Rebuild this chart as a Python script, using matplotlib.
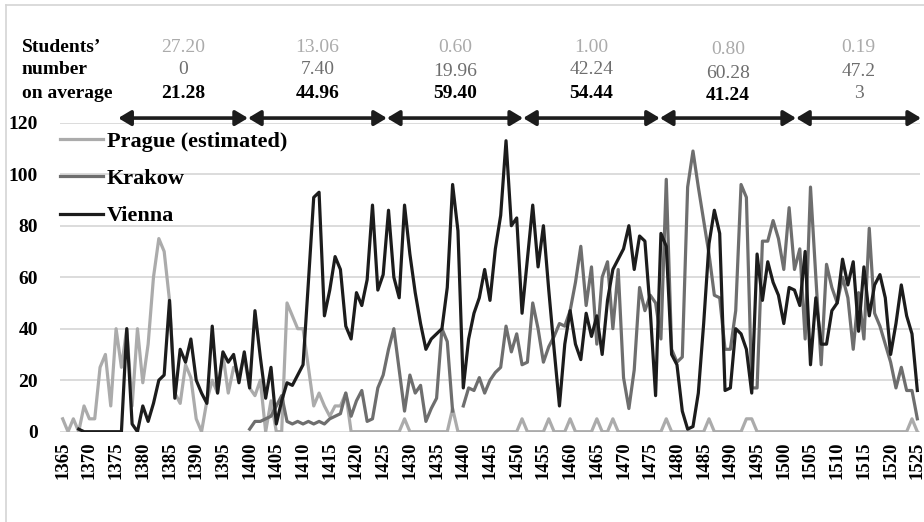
import numpy as np
import matplotlib.pyplot as plt
from matplotlib.lines import Line2D
from matplotlib.transforms import blended_transform_factory

plt.rcParams['font.family'] = ['Liberation Serif', 'DejaVu Serif']

nan = np.nan
years = list(range(1365, 1526))

# students per year
prague = [5, 0, 5, 0, 10, 5, 5, 25, 30, 10,
          40, 25, 40, 10, 40, 19, 34, 60, 75, 70,
          51, 15, 11, 26, 21, 5, 0, 12, 20, 15,
          30, 15, 25, 22, 29, 17, 14, 20, 0, 12,
          0, 0, 50, 45, 40, 40, 25, 10, 15, 10,
          6, 10, 10, 15, 0, 0, 0, 0, 0, 0,
          0, 0, 0, 0, 5, 0, 0, 0, 0, 0,
          0, 0, 0, 9, 0, 0, 0, 0, 0, 0,
          0, 0, 0, 0, 0, 0, 5, 0, 0, 0,
          0, 5, 0, 0, 0, 5, 0, 0, 0, 0,
          5, 0, 0, 5, 0, 0, 0, 0, 0, 0,
          0, 0, 0, 5, 0, 0, 0, 0, 0, 0,
          0, 5, 0, 0, 0, 0, 0, 0, 5, 5,
          0, 0, 0, 0, 0, 0, 0, 0, 0, 0,
          0, 0, 0, 0, 0, 0, 0, 0, 0, 0,
          0, 0, 0, 0, 0, 0, 0, 0, 0, 5,
          0]

krakow = [nan] * 35 + [
          1, 4, 4, 5, 6, 10, 14, 4, 3, 4,
          3, 4, 3, 4, 3, 5, 6, 7, 15, 6,
          12, 16, 4, 5, 17, 22, 32, 40, 24, 8,
          22, 15, 18, 4, 9, 13, 40, 35, 8, nan,
          10, 17, 16, 21, 15, 20, 23, 25, 41, 31,
          38, 26, 27, 50, 40, 27, 33, 37, 42, 41,
          47, 58, 72, 49, 64, 34, 60, 66, 40, 63,
          21, 9, 24, 56, 47, 53, 50, 36, 98, 32,
          27, 29, 95, 109, 95, 82, 69, 53, 52, 32,
          32, 47, 96, 91, 17, 17, 74, 74, 82, 75,
          63, 87, 63, 71, 36, 95, 60, 26, 65, 56,
          50, 60, 52, 32, 54, 36, 79, 46, 41, 34,
          27, 17, 25, 16, 16, 5]

vienna = [nan, nan, nan,
          1, 0, 0, 0, 0, 0, 0, 0, 0,
          40, 3, 0, 10, 4, 11, 20, 22, 51, 13,
          32, 27, 36, 20, 15, 11, 41, 15, 31, 27,
          30, 19, 31, 17, 47, 29, 13, 25, 3, 12,
          19, 18, 22, 26, 58, 91, 93, 45, 55, 68,
          63, 41, 36, 54, 49, 59, 88, 55, 61, 86,
          60, 52, 88, 69, 54, 42, 32, 36, 38, 40,
          56, 96, 78, 17, 36, 46, 52, 63, 51, 71,
          84, 113, 80, 83, 46, 67, 88, 64, 80, 55,
          32, 10, 34, 47, 34, 28, 46, 37, 45, 30,
          51, 63, 67, 71, 80, 63, 76, 74, 47, 14,
          77, 72, 30, 26, 8, 1, 2, 15, 42, 73,
          86, 77, 16, 17, 40, 38, 32, 15, 69, 51,
          66, 58, 53, 42, 56, 55, 49, 70, 26, 52,
          34, 34, 47, 50, 67, 57, 66, 39, 64, 45,
          57, 61, 52, 30, 42, 57, 45, 38, 16]

# periods and their averages (header)
arrow_edges = [1375.4, 1399.7, 1425.7, 1451.2, 1476.8, 1502.3, 1525.7]
avg_prague = ['27.20', '13.06', '0.60', '1.00', '0.80', '0.19']
avg_krakow = ['0', '7.40', '19.96', '42.24', '60.28', '47.2']
avg_vienna = ['21.28', '44.96', '59.40', '54.44', '41.24', '3']

c_prague = '#ababab'
c_krakow = '#6e6e6e'
c_vienna = '#1c1c1c'

W, H = 924, 522
fig = plt.figure(figsize=(W / 100, H / 100), dpi=100)
ax = fig.add_axes([60 / W, 1 - 431.7 / H, 860 / W, 309 / H])

ax.plot(years, prague, color=c_prague, lw=2.3, label='Prague (estimated)')
ax.plot(years, krakow, color=c_krakow, lw=2.3, label='Krakow')
ax.plot(years, vienna, color=c_vienna, lw=2.3, label='Vienna')

ax.set_xlim(1364.5, 1525.5)
ax.set_ylim(0, 120)
ax.set_yticks(range(0, 121, 20))
tick_years = list(range(1365, 1526, 5))
ax.set_xticks(tick_years)
ax.set_xticklabels([str(y) for y in tick_years], rotation=90)
ax.tick_params(axis='x', length=0, labelsize=13.5, pad=7)
ax.tick_params(axis='y', length=0, labelsize=14, pad=16)
for lab in ax.get_xticklabels() + ax.get_yticklabels():
    lab.set_fontweight('bold')
ax.grid(axis='y', color='#d9d9d9', lw=1.3)
ax.set_axisbelow(True)
for s in ax.spines.values():
    s.set_visible(False)

ax.legend(loc='upper left', bbox_to_anchor=(60 / W, 1 - 131 / H),
          bbox_transform=fig.transFigure, frameon=False,
          prop=dict(weight='bold', size=16), handlelength=1.95,
          handletextpad=0.15, labelspacing=0.76, borderpad=0,
          borderaxespad=0)

# double arrows marking the periods
for a, b in zip(arrow_edges[:-1], arrow_edges[1:]):
    ax.annotate('', xy=(b, 121.8), xytext=(a, 121.8), annotation_clip=False,
                arrowprops=dict(arrowstyle='<|-|>,head_length=0.75,head_width=0.45',
                                lw=2.6, color=c_vienna, shrinkA=0, shrinkB=0,
                                mutation_scale=10))

# header numbers, centred over each period
tr = blended_transform_factory(ax.transData, fig.transFigure)
mids = [(a + b) / 2 for a, b in zip(arrow_edges[:-1], arrow_edges[1:])]
drop = [0, 0, 1, 0, 3, 1]
for i, m in enumerate(mids):
    ax.text(m, 1 - (47 + drop[i]) / H, avg_prague[i], transform=tr,
            ha='center', va='center', color=c_prague, fontsize=14)
    ax.text(m, 1 - (70 + drop[i]) / H, avg_krakow[i], transform=tr,
            ha='center', va='center', color=c_krakow, fontsize=14)
    last_col = i == len(mids) - 1
    ax.text(m, 1 - (93 + drop[i]) / H, avg_vienna[i], transform=tr,
            ha='center', va='center', fontsize=14,
            color=c_krakow if last_col else 'black',
            fontweight='normal' if last_col else 'bold')

for j, t in enumerate(['Students\u2019', 'number', 'on average']):
    fig.text(22 / W, 1 - (47 + 23 * j) / H, t, ha='left', va='center',
             fontsize=14, fontweight='bold')

# thin frame at the top and left of the picture
fig.add_artist(Line2D([5.5 / W, 1], [1 - 4.5 / H, 1 - 4.5 / H],
                      transform=fig.transFigure, color='#d4d4d4', lw=1.2))
fig.add_artist(Line2D([5.5 / W, 5.5 / W], [0, 1 - 4.5 / H],
                      transform=fig.transFigure, color='#d4d4d4', lw=1.2))

fig.savefig('out.png', dpi=100)
